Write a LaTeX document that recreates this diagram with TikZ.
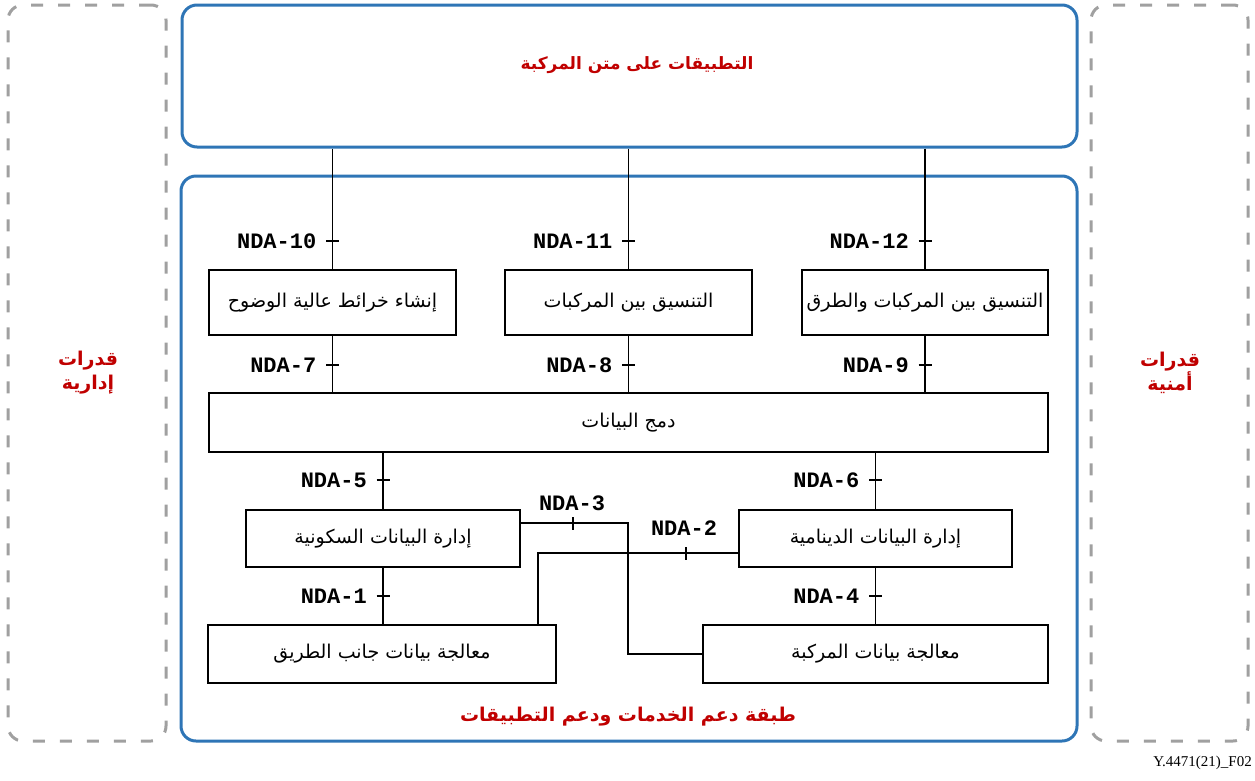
\documentclass[tikz,border=0pt]{standalone}
\usepackage{fontspec}
\setmainfont{Liberation Serif}
\newfontfamily\arabicfont[Script=Arabic]{DejaVu Sans}
\newfontfamily\ndafont{Liberation Mono}
\TeXXeTstate=1
\definecolor{bluec}{RGB}{46,117,182}
\definecolor{grayc}{RGB}{160,160,160}
\definecolor{redc}{RGB}{192,0,0}
\tikzset{
  box/.style={draw=black, line width=1.6pt, inner sep=0pt, font=\arabicfont\fontsize{19}{22}\selectfont},
  bluebox/.style={draw=bluec, line width=3pt, rounded corners=15pt, inner sep=0pt},
  dashbox/.style={draw=grayc, line width=3pt, dash pattern=on 12pt off 15pt, rounded corners=15pt, inner sep=0pt},
  conn/.style={line width=1.5pt},
  ticky/.style={line width=1.5pt},
  nda/.style={font=\ndafont\bfseries\fontsize{22}{24}\selectfont, inner sep=0pt},
  redlbl/.style={text=redc, font=\arabicfont\bfseries\fontsize{19}{24}\selectfont, align=center, inner sep=0pt},
}
\begin{document}
\begin{tikzpicture}[x=1pt,y=-1pt]
\useasboundingbox (0,0) rectangle (1255,780);
% outer frames
\node[dashbox, minimum width=158pt, minimum height=736pt] (adm) at (87,373) {};
\node[dashbox, minimum width=157pt, minimum height=736pt] (sec) at (1169.5,373) {};
\node[bluebox, minimum width=895pt, minimum height=142pt] (top) at (629.5,76) {};
\node[bluebox, minimum width=896pt, minimum height=565pt] (layer) at (629,458.5) {};
% labels
\node[redlbl, font=\arabicfont\bfseries\fontsize{17}{22}\selectfont] (toplbl) at (637,65) {\beginR التطبيقات على متن المركبة\endR};
\node[redlbl] (layerlbl) at (628,717) {\beginR طبقة دعم الخدمات ودعم التطبيقات\endR};
\node[redlbl] (admlbl) at (88,373) {\beginR قدرات\endR\\\beginR إدارية\endR};
\node[redlbl] (seclbl) at (1170,373) {\beginR قدرات\endR\\\beginR أمنية\endR};
\node[font=\fontsize{15}{17}\selectfont, anchor=east, inner sep=0pt] (fig) at (1252,763) {Y.4471(21)\_F02};
% boxes
\node[box, minimum width=247pt, minimum height=65pt] (b1) at (332.5,302.5) {\beginR إنشاء خرائط عالية الوضوح\endR};
\node[box, minimum width=247pt, minimum height=65pt] (b2) at (628.5,302.5) {\beginR التنسيق بين المركبات\endR};
\node[box, minimum width=246pt, minimum height=65pt] (b3) at (925,302.5) {\beginR التنسيق بين المركبات والطرق\endR};
\node[box, minimum width=839pt, minimum height=59pt] (dm) at (628.5,422.5) {\beginR دمج البيانات\endR};
\node[box, minimum width=274pt, minimum height=57pt] (sl) at (383,538.5) {\beginR إدارة البيانات السكونية\endR};
\node[box, minimum width=273pt, minimum height=57pt] (dl) at (875.5,538.5) {\beginR إدارة البيانات الدينامية\endR};
\node[box, minimum width=348pt, minimum height=58pt] (rs) at (382,654) {\beginR معالجة بيانات جانب الطريق\endR};
\node[box, minimum width=345pt, minimum height=58pt] (vh) at (875.5,654) {\beginR معالجة بيانات المركبة\endR};
% vertical connectors with ticks
\draw[conn] (b1.north |- top.south) -- (b1.north);
\draw[conn] (b2.north |- top.south) -- (b2.north);
\draw[conn] (b3.north |- top.south) -- (b3.north);
\draw[conn] (b1.south) -- (b1.south |- dm.north);
\draw[conn] (b2.south) -- (b2.south |- dm.north);
\draw[conn] (b3.south) -- (b3.south |- dm.north);
\draw[conn] (sl.north |- dm.south) -- (sl.north);
\draw[conn] (dl.north |- dm.south) -- (dl.north);
\draw[conn] (sl.south) -- (sl.south |- rs.north);
\draw[conn] (dl.south) -- (dl.south |- vh.north);
% crossing connectors
\coordinate (n3) at (628,523);
\coordinate (n2) at (538,553);
\draw[conn] (sl.east |- n3) -- (n3) -- (n3 |- vh.west) -- (vh.west);
\draw[conn] (dl.west |- n2) -- (n2) -- (n2 |- rs.north);
% tick points
\coordinate (t10) at (b1.north |- 0,241);
\coordinate (t11) at (b2.north |- 0,241);
\coordinate (t12) at (b3.north |- 0,241);
\coordinate (t7) at (b1.south |- 0,365);
\coordinate (t8) at (b2.south |- 0,365);
\coordinate (t9) at (b3.south |- 0,365);
\coordinate (t5) at (sl.north |- 0,480);
\coordinate (t6) at (dl.north |- 0,480);
\coordinate (t1) at (sl.south |- 0,596);
\coordinate (t4) at (dl.south |- 0,596);
\coordinate (t3) at (573,523);
\coordinate (t2) at (686,553);
\foreach \t in {t10,t11,t12,t7,t8,t9,t5,t6,t1,t4}
  \draw[ticky] ([xshift=-6.5pt]\t) -- ([xshift=6.5pt]\t);
\foreach \t in {t3,t2}
  \draw[ticky] ([yshift=-6.5pt]\t) -- ([yshift=6.5pt]\t);
% NDA labels
\node[nda, anchor=east] (l10) at ([xshift=-16pt]t10) {NDA-10};
\node[nda, anchor=east] (l11) at ([xshift=-16pt]t11) {NDA-11};
\node[nda, anchor=east] (l12) at ([xshift=-16pt]t12) {NDA-12};
\node[nda, anchor=east] (l7) at ([xshift=-16pt]t7) {NDA-7};
\node[nda, anchor=east] (l8) at ([xshift=-16pt]t8) {NDA-8};
\node[nda, anchor=east] (l9) at ([xshift=-16pt]t9) {NDA-9};
\node[nda, anchor=east] (l5) at ([xshift=-16pt]t5) {NDA-5};
\node[nda, anchor=east] (l6) at ([xshift=-16pt]t6) {NDA-6};
\node[nda, anchor=east] (l1) at ([xshift=-16pt]t1) {NDA-1};
\node[nda, anchor=east] (l4) at ([xshift=-16pt]t4) {NDA-4};
\node[nda] (l3) at (572,503) {NDA-3};
\node[nda] (l2) at (684,528) {NDA-2};
\end{tikzpicture}
\end{document}
